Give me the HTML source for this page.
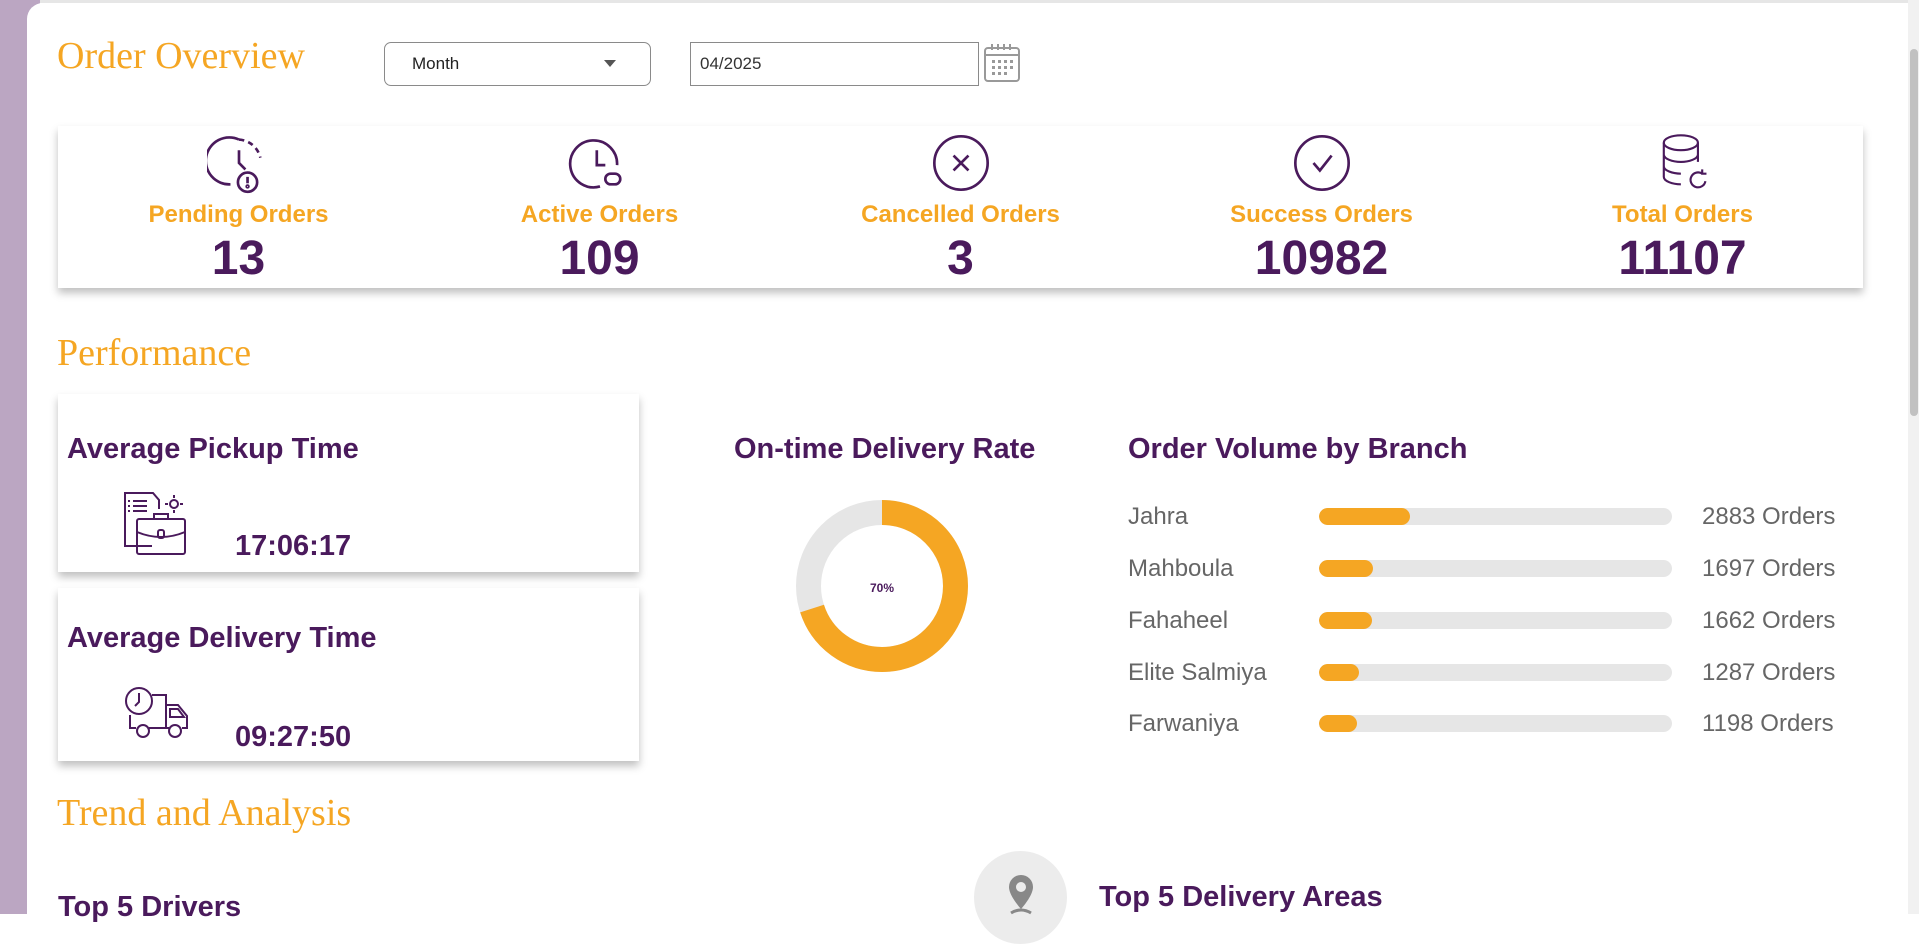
<!DOCTYPE html>
<html><head><meta charset="utf-8"><style>
*{box-sizing:border-box;margin:0;padding:0}
body{width:1919px;height:914px;overflow:hidden;background:#fff;font-family:"Liberation Sans",Arial,sans-serif;position:relative}
.abs{position:absolute}
.bgl{left:0;top:0;width:40px;height:914px;background:#bba6c2}
.topline{left:0;top:0;width:1919px;height:3px;background:#e6e6e6}
.card{left:27px;top:3px;width:1866px;height:930px;background:#fff;border-radius:16px}
.sb{left:1908px;top:0;width:11px;height:914px;background:#f1f1f1}
.thumb{left:1910px;top:49px;width:8px;height:367px;background:#c1c1c1;border-radius:4px}
.h{font-family:"Liberation Serif",serif;color:#f5a623;font-size:38px;white-space:nowrap}
.sel{border:1px solid #8a8a8a;border-radius:7px;height:44px}
.stat{left:58px;top:126px;width:1805px;height:162px;box-shadow:0 5px 8px rgba(0,0,0,.25);background:#fff}
.col{position:absolute;top:0;width:361px;height:162px;text-align:center}
.col svg{position:absolute;left:149px;top:5px}
.lab{position:absolute;top:75px;width:100%;font-size:24px;font-weight:bold;color:#f5a623}
.num{position:absolute;top:105px;width:100%;font-size:48px;font-weight:bold;color:#4a1a5c}
.pc{background:#fff;box-shadow:0 5px 8px rgba(0,0,0,.25);width:581px}
.pt{font-size:29px;font-weight:bold;color:#4a1a5c;white-space:nowrap}
.tm{font-size:29px;font-weight:bold;color:#4a1a5c}
.row{position:absolute;left:1128px;width:700px;height:30px}
.rl{position:absolute;left:0;top:3px;font-size:24px;color:#666;white-space:nowrap}
.bar{position:absolute;left:191px;top:8px;width:353px;height:17px;background:#e6e6e6;border-radius:9px;overflow:hidden}
.bar i{display:block;height:17px;background:#f5a623;border-radius:9px}
.rv{position:absolute;left:574px;top:3px;font-size:24px;color:#666;white-space:nowrap}
</style></head><body>
<div class="abs topline"></div>
<div class="abs bgl"></div>
<div class="abs card"></div>
<div class="abs sb"></div><div class="abs thumb"></div>

<div class="abs h" style="left:57px;top:34px">Order Overview</div>
<div class="abs sel" style="left:384px;top:42px;width:267px"><span class="abs" style="left:27px;top:11px;font-size:17px;color:#222">Month</span><span class="abs" style="left:219px;top:17px;width:0;height:0;border-left:6px solid transparent;border-right:6px solid transparent;border-top:7px solid #555"></span></div>
<div class="abs" style="left:690px;top:42px;width:289px;height:44px;border:1px solid #8a8a8a"><span class="abs" style="left:9px;top:11px;font-size:17px;color:#333">04/2025</span></div>
<svg class="abs" style="left:983px;top:43px" width="38" height="40" viewBox="0 0 38 40"><rect x="2" y="5" width="34" height="33" rx="3" fill="none" stroke="#999" stroke-width="2"/><line x1="2" y1="12" x2="36" y2="12" stroke="#999" stroke-width="2"/><g fill="#999"><rect x="8" y="1" width="2" height="6"/><rect x="14" y="1" width="2" height="6"/><rect x="20" y="1" width="2" height="6"/><rect x="26" y="1" width="2" height="6"/><rect x="9" y="17" width="3" height="3"/><rect x="15" y="17" width="3" height="3"/><rect x="21" y="17" width="3" height="3"/><rect x="27" y="17" width="3" height="3"/><rect x="9" y="23" width="3" height="3"/><rect x="15" y="23" width="3" height="3"/><rect x="21" y="23" width="3" height="3"/><rect x="27" y="23" width="3" height="3"/><rect x="9" y="29" width="3" height="3"/><rect x="15" y="29" width="3" height="3"/><rect x="21" y="29" width="3" height="3"/></g></svg>

<div class="abs stat">
 <div class="col" style="left:0"><svg width="64" height="64" viewBox="0 0 60 60" fill="none" stroke="#4a1a5c" stroke-width="2.5"><path d="M30 8 A22 22 0 1 0 22 50"/><path d="M30 8 A22 22 0 0 1 50 25" stroke-dasharray="5 4"/><path d="M30 18 v12 l6 6"/><circle cx="38" cy="48" r="9"/><line x1="38" y1="43" x2="38" y2="49"/><circle cx="38" cy="52" r=".8"/></svg><div class="lab">Pending Orders</div><div class="num">13</div></div>
 <div class="col" style="left:361px"><svg width="64" height="64" viewBox="0 0 60 60" fill="none" stroke="#4a1a5c" stroke-width="2.5"><path d="M46 32 A22 22 0 1 0 30 52"/><path d="M27 18 v14 h8"/><rect x="35" y="40" width="14" height="10" rx="5"/></svg><div class="lab">Active Orders</div><div class="num">109</div></div>
 <div class="col" style="left:722px"><svg width="64" height="64" viewBox="0 0 60 60" fill="none" stroke="#4a1a5c" stroke-width="2.5"><circle cx="30" cy="30" r="25"/><path d="M23 23 l14 14 M37 23 l-14 14"/></svg><div class="lab">Cancelled Orders</div><div class="num">3</div></div>
 <div class="col" style="left:1083px"><svg width="64" height="64" viewBox="0 0 60 60" fill="none" stroke="#4a1a5c" stroke-width="2.5"><circle cx="30" cy="30" r="25"/><path d="M22 30 l6 7 l11 -14"/></svg><div class="lab">Success Orders</div><div class="num">10982</div></div>
 <div class="col" style="left:1444px"><svg width="64" height="64" viewBox="0 0 60 60" fill="none" stroke="#4a1a5c" stroke-width="2"><ellipse cx="28" cy="11" rx="16" ry="7"/><path d="M12 11 v32 c0 4 8 7 16 7 M44 11 v18 M12 22 c0 4 8 7 16 7 s16-3 16-7 M12 33 c0 4 8 7 16 7"/><path d="M51 47 a7 7 0 1 1 -3 -7 M48 36 v4 h4"/></svg><div class="lab">Total Orders</div><div class="num">11107</div></div>
</div>

<div class="abs h" style="left:57px;top:331px">Performance</div>

<div class="abs pc" style="left:58px;top:394px;height:178px"></div>
<div class="abs pt" style="left:67px;top:433px">Average Pickup Time</div>
<svg class="abs" style="left:122px;top:492px" width="70" height="66" viewBox="0 0 70 66" fill="none" stroke="#4a1a5c" stroke-width="2"><path d="M30 54 H3 V1 h28 l6 7 v9"/><path d="M6 9 h2 M11 9 h14 M6 14 h2 M11 14 h14 M6 19 h2 M11 19 h14"/><rect x="15" y="27" width="48" height="35" rx="2"/><path d="M32 27 v-5 h14 v5 M15 40 q24 10 48 0"/><rect x="36" y="38" width="6" height="8" rx="2"/><circle cx="52" cy="12" r="4"/><path d="M52 3 v3 M52 18 v3 M43 12 h3 M58 12 h3"/></svg>
<div class="abs tm" style="left:235px;top:530px">17:06:17</div>

<div class="abs pc" style="left:58px;top:588px;height:173px"></div>
<div class="abs pt" style="left:67px;top:622px">Average Delivery Time</div>
<svg class="abs" style="left:122px;top:685px" width="70" height="56" viewBox="0 0 70 56" fill="none" stroke="#4a1a5c" stroke-width="2"><circle cx="17" cy="16" r="13"/><path d="M17 8 v9 l-4 4"/><path d="M30 10 h14 v33 H36 M44 20 h12 l9 11 v12 h-5 M8 30 v13 h6"/><path d="M48 24 h8 l6 8 h-14z"/><circle cx="21" cy="46" r="6"/><circle cx="53" cy="46" r="6"/><line x1="27" y1="43" x2="47" y2="43"/></svg>
<div class="abs tm" style="left:235px;top:721px">09:27:50</div>

<div class="abs pt" style="left:734px;top:433px">On-time Delivery Rate</div>
<svg class="abs" style="left:796px;top:500px" width="172" height="172" viewBox="0 0 172 172"><circle cx="86" cy="86" r="73.5" fill="none" stroke="#e6e6e6" stroke-width="25"/><circle cx="86" cy="86" r="73.5" fill="none" stroke="#f5a623" stroke-width="25" stroke-dasharray="323.3 1000" transform="rotate(-90 86 86)"/><text x="86" y="92" text-anchor="middle" font-family="Liberation Sans" font-size="12" font-weight="bold" fill="#4a1a5c">70%</text></svg>

<div class="abs pt" style="left:1128px;top:433px">Order Volume by Branch</div>
<div class="row" style="top:500px"><span class="rl">Jahra</span><div class="bar"><i style="width:91px"></i></div><span class="rv">2883 Orders</span></div>
<div class="row" style="top:552px"><span class="rl">Mahboula</span><div class="bar"><i style="width:54px"></i></div><span class="rv">1697 Orders</span></div>
<div class="row" style="top:604px"><span class="rl">Fahaheel</span><div class="bar"><i style="width:53px"></i></div><span class="rv">1662 Orders</span></div>
<div class="row" style="top:656px"><span class="rl">Elite Salmiya</span><div class="bar"><i style="width:40px"></i></div><span class="rv">1287 Orders</span></div>
<div class="row" style="top:707px"><span class="rl">Farwaniya</span><div class="bar"><i style="width:38px"></i></div><span class="rv">1198 Orders</span></div>

<div class="abs h" style="left:57px;top:791px">Trend and Analysis</div>
<div class="abs pt" style="left:58px;top:891px">Top 5 Drivers</div>
<div class="abs" style="left:974px;top:851px;width:93px;height:93px;border-radius:50%;background:#ececec"></div>
<svg class="abs" style="left:1005px;top:873px" width="32" height="45" viewBox="0 0 32 45"><path d="M16 2 a12 12 0 0 0 -12 12 c0 9 12 22 12 22 s12 -13 12 -22 a12 12 0 0 0 -12 -12z" fill="#888"/><circle cx="16" cy="14" r="5" fill="#ececec"/><path d="M6 40 q10 -6 20 0" stroke="#888" stroke-width="3" fill="none"/></svg>
<div class="abs pt" style="left:1099px;top:881px">Top 5 Delivery Areas</div>
</body></html>
